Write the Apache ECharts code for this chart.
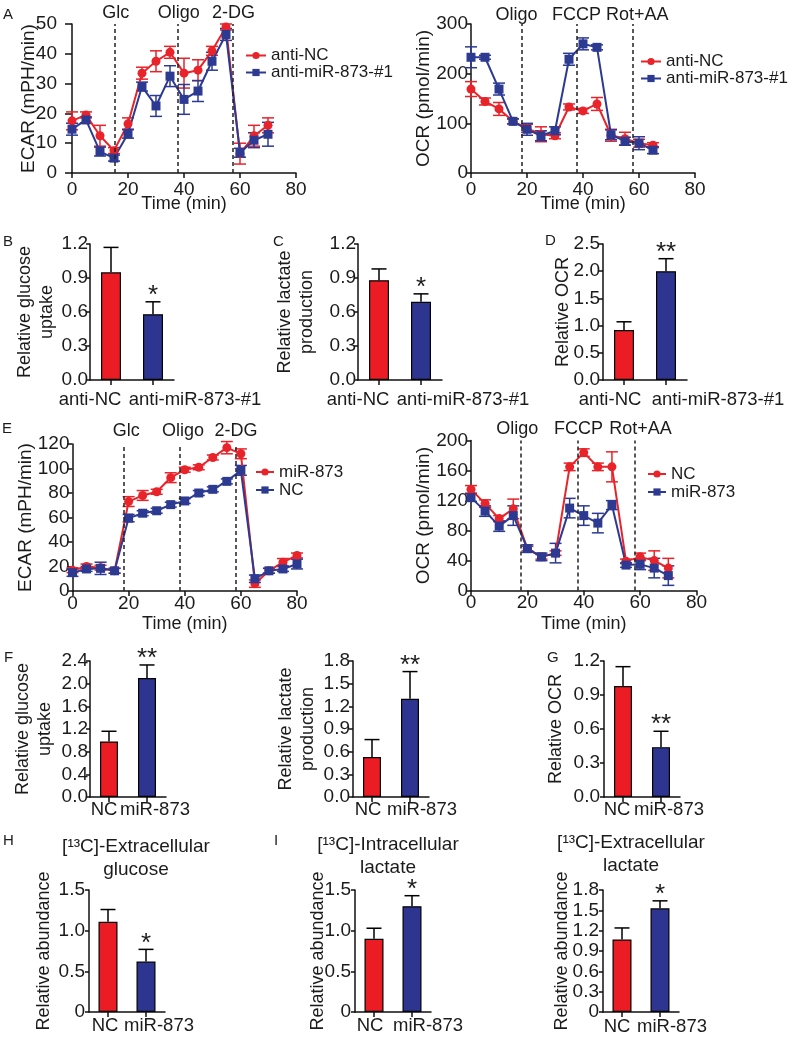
<!DOCTYPE html>
<html><head><meta charset="utf-8">
<script src="https://cdn.jsdelivr.net/npm/echarts@6/dist/echarts.min.js"></script>
<style>html,body{margin:0;padding:0;background:#fff}#c{width:800px;height:1037px}</style>
</head><body><div id="c"></div>
<script>
// ---------------- DATA ----------------
// Panel A: ECAR (anti-NC vs anti-miR-873-#1)
const aEcarTime = [0,5,10,15,20,25,30,35,40,45,50,55,60,65,70];
const aEcarNC = [17.5,19.5,12.5,7.5,16.5,33.5,37.5,40.5,33.5,34.5,41,49,6.5,12.5,16];
const aEcarNCErr = [3,1,3.5,1,2,2,3.5,2,5,3.5,1.5,1,3.5,3.5,2.5];
const aEcarMiR = [14.7,17.8,7.2,5,13.2,29,22.5,32.5,24.7,27.5,37.5,46.5,6.8,11,13];
const aEcarMiRErr = [2,1,1.5,1,1.5,1.5,3.5,3.5,5,3.5,3,2,1.5,2.5,4];
const aEcarInject = [15.3,37.8,57.3];
const aEcarInjectNames = ['Glc','Oligo','2-DG'];
// Panel A: OCR
const aOcrTime = [0,5,10,15,20,25,30,35,40,45,50,55,60,65];
const aOcrNC = [169,144,129,104,90,78,75,133,125,139,76,69,60,56];
const aOcrNCErr = [15,7,13,5,8,15,6,6,5,13,12,13,8,5];
const aOcrMiR = [233,233,169,104,88,75,85,229,260,253,77,64,60,46];
const aOcrMiRErr = [21,4,12,5,12,10,8,12,12,5,10,8,13,7];
const aOcrInject = [18,37.7,57.6];
const aOcrInjectNames = ['Oligo','FCCP','Rot+AA'];
// Panel E: ECAR (miR-873 vs NC)
const eEcarTime = [0,5,10,15,20,25,30,35,40,45,50,55,60,65,70,75,80];
const eEcarMiR = [17,20,19,16.5,73,78,81,92.5,99,101,109,117,112,6,16.5,23.5,29];
const eEcarMiRErr = [2,2,2,2,4,4,2,4,2,2,2,5,4,3,2,3,2];
const eEcarNC = [15,18,18.5,16.5,59.5,63.5,65.5,70.5,73.5,80,83,89.5,98.5,10,16.5,18,22];
const eEcarNCErr = [3,2,5,2,3,2,2,2,2,2,2,2,4,3,2,2,4];
const eEcarInject = [18.4,38.3,58.3];
const eEcarInjectNames = ['Glc','Oligo','2-DG'];
// Panel E: OCR
const eOcrTime = [0,5,10,15,20,25,30,35,40,45,50,55,60,65,70];
const eOcrNC = [135,116,96,109,56,45,50,165,184,165,165,39,45,40,30];
const eOcrNCErr = [5,5,4,13,3,3,3,5,5,5,20,3,5,13,13];
const eOcrMiR = [124,106,86,100,56,45,50,110,100,90,114,34,35,30,20];
const eOcrMiRErr = [5,7,7,13,5,5,13,13,13,13,6,3,7,13,13];
const eOcrInject = [17.8,37.8,58];
const eOcrInjectNames = ['Oligo','FCCP','Rot+AA'];
// Bar panels
const catsAnti = ['anti-NC','anti-miR-873-#1'];
const catsMiR = ['NC','miR-873'];
const bGlucose = [0.95,0.58], bGlucoseErr = [0.22,0.11], bStars = ['','*'];
const cLactate = [0.88,0.69], cLactateErr = [0.10,0.07], cStars = ['','*'];
const dOcr = [0.92,2.0], dOcrErr = [0.15,0.23], dStars = ['','**'];
const fGlucose = [0.98,2.1], fGlucoseErr = [0.18,0.23], fGlucoseStars = ['','**'];
const fLactate = [0.53,1.3], fLactateErr = [0.23,0.36], fLactateStars = ['','**'];
const gOcr = [0.98,0.44], gOcrErr = [0.17,0.14], gStars = ['','**'];
const hGlucose = [1.11,0.62], hGlucoseErr = [0.15,0.15], hStars = ['','*'];
const iLactate = [0.9,1.3], iLactateErr = [0.13,0.13], iStars = ['','*'];
const jLactate = [1.07,1.53], jLactateErr = [0.17,0.11], jStars = ['','*'];

// ---------------- STYLE ----------------
const FONT = '"Liberation Sans", Arial, Helvetica, sans-serif';
const TXT = '#1b1b1b', AX = '#111';
const RED = '#e8232a', BLUE = '#2c3a92';
const BAR_RED = '#ec1c24', BAR_BLUE = '#2e3590';

const grids = [], xAxes = [], yAxes = [], series = [], legends = [], titles = [];

function pad(s) { return s < 0 ? [0, -2 * s, 0, 0] : [0, 0, 0, 2 * s]; }

function lineErr(color, cap) {
  return function (params, api) {
    const x = api.value(0), y = api.value(1), e = api.value(2);
    const lo = api.coord([x, y - e]), hi = api.coord([x, y + e]);
    const st = {stroke: color, lineWidth: 1.5};
    return {type: 'group', children: [
      {type: 'line', shape: {x1: lo[0], y1: lo[1], x2: hi[0], y2: hi[1]}, style: st},
      {type: 'line', shape: {x1: hi[0] - cap / 2, y1: hi[1], x2: hi[0] + cap / 2, y2: hi[1]}, style: st},
      {type: 'line', shape: {x1: lo[0] - cap / 2, y1: lo[1], x2: lo[0] + cap / 2, y2: lo[1]}, style: st}
    ]};
  };
}

function addLinePanel(cfg) {
  const gi = grids.length;
  grids.push({left: cfg.box[0], top: cfg.box[1], width: cfg.box[2], height: cfg.box[3], containLabel: false, outerBoundsMode: 'none'});
  xAxes.push({gridIndex: gi, type: 'value', min: 0, max: 80, interval: 20,
    name: 'Time (min)', nameLocation: 'middle', nameGap: cfg.xNameGap, nameMoveOverlap: false,
    nameTextStyle: {fontSize: 18, color: TXT, fontFamily: FONT},
    axisLine: {show: true, lineStyle: {color: AX, width: 1.5}},
    axisTick: {show: true, length: 5, lineStyle: {color: AX, width: 1.5}},
    axisLabel: {fontSize: 19, color: TXT, fontFamily: FONT, margin: cfg.xLabelMargin},
    splitLine: {show: false}});
  yAxes.push({gridIndex: gi, type: 'value', min: 0, max: cfg.yMax, interval: cfg.yInt,
    name: cfg.yName, nameLocation: 'middle', nameRotate: 90, nameGap: cfg.yNameGap, nameMoveOverlap: false,
    nameTextStyle: {fontSize: 19, color: TXT, fontFamily: FONT},
    axisLine: {show: true, lineStyle: {color: AX, width: 1.5}},
    axisTick: {show: true, length: cfg.yTickLen, lineStyle: {color: AX, width: 1.5}},
    axisLabel: {fontSize: 19, color: TXT, fontFamily: FONT, margin: cfg.yLabelMargin},
    splitLine: {show: false}});
  cfg.lines.forEach((ln, k) => {
    const s = {type: 'line', name: cfg.id + '|' + ln.name, xAxisIndex: gi, yAxisIndex: gi,
      data: cfg.time.map((t, i) => [t, ln.values[i]]),
      symbol: ln.symbol, symbolSize: 9, lineStyle: {color: ln.color, width: 2},
      itemStyle: {color: ln.color}, z: 4, animation: false};
    if (k === 0) {
      s.markLine = {silent: true, symbol: ['none', 'none'], animation: false,
        lineStyle: {type: [4, 3], color: '#222', width: 1.5},
        label: {show: true, position: 'end', formatter: '{b}', fontSize: 18, color: TXT, fontFamily: FONT, distance: cfg.markDist},
        emphasis: {disabled: true},
        data: cfg.inject.map((t, i) => ({xAxis: t, name: cfg.injectNames[i],
          label: {padding: pad(cfg.markShift[i])}}))};
    }
    series.push(s);
    series.push({type: 'custom', xAxisIndex: gi, yAxisIndex: gi, silent: true, z: 3, animation: false,
      data: cfg.time.map((t, i) => [t, ln.values[i], ln.errs[i]]), renderItem: lineErr(ln.color, 12)});
  });
  legends.push({orient: 'vertical', left: cfg.legendPos[0], top: cfg.legendPos[1], padding: 0,
    itemWidth: cfg.legendItemW, itemHeight: 9, itemGap: 0, selectedMode: false,
    textStyle: {fontSize: 17, color: TXT, fontFamily: FONT, lineHeight: cfg.legendLH},
    formatter: n => n.split('|')[1],
    data: cfg.lines.map(ln => ({name: cfg.id + '|' + ln.name, itemStyle: {color: ln.color}, lineStyle: {color: ln.color, width: 2}}))});
}

function addBarPanel(cfg) {
  const gi = grids.length;
  grids.push({left: cfg.box[0], top: cfg.box[1], width: cfg.box[2], height: cfg.box[3], containLabel: false, outerBoundsMode: 'none'});
  const tokenStyle = s => ({fontSize: 18.5, color: TXT, fontFamily: FONT, lineHeight: 19, padding: pad(s)});
  xAxes.push({gridIndex: gi, type: 'category', data: cfg.cats,
    axisLine: {show: true, lineStyle: {color: AX, width: 1.5}},
    axisTick: {show: true, alignWithLabel: true, length: 5, lineStyle: {color: AX, width: 1.5}},
    axisLabel: {interval: 0, margin: cfg.labelMargin, hideOverlap: false,
      formatter: (v, i) => '{c' + i + '|' + v + '}',
      rich: {c0: tokenStyle(cfg.shift[0]), c1: tokenStyle(cfg.shift[1])}},
    splitLine: {show: false}});
  yAxes.push({gridIndex: gi, type: 'value', min: 0, max: cfg.yMax, interval: cfg.yInt,
    name: cfg.yName, nameLocation: 'middle', nameRotate: 90, nameGap: cfg.yNameGap, nameMoveOverlap: false,
    nameTextStyle: {fontSize: 18, color: TXT, fontFamily: FONT, lineHeight: 22},
    axisLine: {show: true, lineStyle: {color: AX, width: 1.5}},
    axisTick: {show: true, length: 4, lineStyle: {color: AX, width: 1.5}},
    axisLabel: {fontSize: 19, color: TXT, fontFamily: FONT, margin: cfg.yLabelMargin,
      formatter: v => (cfg.zeroPlain && v === 0) ? '0' : v.toFixed(1)},
    splitLine: {show: false}});
  series.push({type: 'bar', xAxisIndex: gi, yAxisIndex: gi, barWidth: cfg.barWidth, animation: false, silent: true, z: 2,
    data: cfg.values.map((v, i) => ({value: v, itemStyle: {color: i === 0 ? BAR_RED : BAR_BLUE, borderColor: '#000', borderWidth: 1.2}}))});
  series.push({type: 'custom', xAxisIndex: gi, yAxisIndex: gi, silent: true, z: 3, animation: false,
    data: cfg.values.map((v, i) => [i, v, cfg.errs[i]]),
    renderItem: function (params, api) {
      const i = api.value(0), v = api.value(1), e = api.value(2);
      const p0 = api.coord([i, v]), p1 = api.coord([i, v + e]);
      const st = {stroke: '#000', lineWidth: 1.5};
      const cap = 15;
      const ch = [
        {type: 'line', shape: {x1: p0[0], y1: p0[1], x2: p1[0], y2: p1[1]}, style: st},
        {type: 'line', shape: {x1: p1[0] - cap / 2, y1: p1[1], x2: p1[0] + cap / 2, y2: p1[1]}, style: st}];
      const star = cfg.stars[params.dataIndex];
      if (star) ch.push({type: 'text', style: {text: star, x: p1[0], y: p1[1] - 6, fill: TXT, fontSize: 26, fontFamily: FONT, align: 'center', verticalAlign: 'middle'}});
      return {type: 'group', children: ch};
    }});
}

// ---------------- PANELS ----------------
addLinePanel({id: 'A1', box: [72, 24, 224, 149], yMax: 50, yInt: 10, yName: 'ECAR (mPH/min)', yNameGap: 34,
  yTickLen: 7, yLabelMargin: 15, xLabelMargin: 7, xNameGap: 22, markDist: 2, markShift: [1, 1, 1],
  time: aEcarTime, inject: aEcarInject, injectNames: aEcarInjectNames,
  legendPos: [245, 47], legendItemW: 20, legendLH: 16,
  lines: [{name: 'anti-NC', values: aEcarNC, errs: aEcarNCErr, color: RED, symbol: 'circle'},
          {name: 'anti-miR-873-#1', values: aEcarMiR, errs: aEcarMiRErr, color: BLUE, symbol: 'rect'}]});
addLinePanel({id: 'A2', box: [471, 24, 224, 149], yMax: 300, yInt: 100, yName: 'OCR (pmol/min)', yNameGap: 38,
  yTickLen: 5, yLabelMargin: 3, xLabelMargin: 7, xNameGap: 22, markDist: 0, markShift: [-5, 0, 5],
  time: aOcrTime, inject: aOcrInject, injectNames: aOcrInjectNames,
  legendPos: [640, 53], legendItemW: 20, legendLH: 16,
  lines: [{name: 'anti-NC', values: aOcrNC, errs: aOcrNCErr, color: RED, symbol: 'circle'},
          {name: 'anti-miR-873-#1', values: aOcrMiR, errs: aOcrMiRErr, color: BLUE, symbol: 'rect'}]});
addLinePanel({id: 'E1', box: [72.5, 444, 224.5, 147], yMax: 120, yInt: 20, yName: 'ECAR (mPH/min)', yNameGap: 37,
  yTickLen: 5, yLabelMargin: 3, xLabelMargin: 3, xNameGap: 24, markDist: 4, markShift: [2, 3, 0],
  time: eEcarTime, inject: eEcarInject, injectNames: eEcarInjectNames,
  legendPos: [255, 463], legendItemW: 18, legendLH: 18,
  lines: [{name: 'miR-873', values: eEcarMiR, errs: eEcarMiRErr, color: RED, symbol: 'circle'},
          {name: 'NC', values: eEcarNC, errs: eEcarNCErr, color: BLUE, symbol: 'rect'}]});
addLinePanel({id: 'E2', box: [471, 440.6, 225.5, 150], yMax: 200, yInt: 40, yName: 'OCR (pmol/min)', yNameGap: 38,
  yTickLen: 5, yLabelMargin: 3, xLabelMargin: 3, xNameGap: 24, markDist: 3, markShift: [-4, 1, 6],
  time: eOcrTime, inject: eOcrInject, injectNames: eOcrInjectNames,
  legendPos: [647, 465], legendItemW: 18, legendLH: 18,
  lines: [{name: 'NC', values: eOcrNC, errs: eOcrNCErr, color: RED, symbol: 'circle'},
          {name: 'miR-873', values: eOcrMiR, errs: eOcrMiRErr, color: BLUE, symbol: 'rect'}]});

addBarPanel({box: [90, 244, 84, 136], cats: catsAnti, values: bGlucose, errs: bGlucoseErr, stars: bStars,
  yMax: 1.2, yInt: 0.3, yName: 'Relative glucose\nuptake', yNameGap: 32, yLabelMargin: 2, labelMargin: 10, shift: [-21, 42], barWidth: 20});
addBarPanel({box: [358, 244, 84, 136], cats: catsAnti, values: cLactate, errs: cLactateErr, stars: cStars,
  yMax: 1.2, yInt: 0.3, yName: 'Relative lactate\nproduction', yNameGap: 40, yLabelMargin: 2, labelMargin: 10, shift: [-21, 42], barWidth: 20});
addBarPanel({box: [603, 244, 84, 136], cats: catsAnti, values: dOcr, errs: dOcrErr, stars: dStars,
  yMax: 2.5, yInt: 0.5, yName: 'Relative OCR', yNameGap: 29, yLabelMargin: 3, labelMargin: 10, shift: [-14, 52], barWidth: 20});
addBarPanel({box: [90, 661, 76, 136], cats: catsMiR, values: fGlucose, errs: fGlucoseErr, stars: fGlucoseStars,
  yMax: 2.4, yInt: 0.4, yName: 'Relative glucose\nuptake', yNameGap: 34, yLabelMargin: 2, labelMargin: 3, shift: [-5, 8], barWidth: 18});
addBarPanel({box: [353, 661, 76, 136], cats: catsMiR, values: fLactate, errs: fLactateErr, stars: fLactateStars,
  yMax: 1.8, yInt: 0.3, yName: 'Relative lactate\nproduction', yNameGap: 34, yLabelMargin: 3, labelMargin: 3, shift: [-4, 12], barWidth: 18});
addBarPanel({box: [604, 661, 76, 136], cats: catsMiR, values: gOcr, errs: gOcrErr, stars: gStars,
  yMax: 1.2, yInt: 0.3, yName: 'Relative OCR', yNameGap: 37, yLabelMargin: 4, labelMargin: 3, shift: [-6, 8], barWidth: 18});
addBarPanel({box: [89, 890, 76, 122], cats: catsMiR, values: hGlucose, errs: hGlucoseErr, stars: hStars, zeroPlain: true,
  yMax: 1.5, yInt: 0.5, yName: 'Relative abundance', yNameGap: 34, yLabelMargin: 4, labelMargin: 4, shift: [-3, 13], barWidth: 19});
addBarPanel({box: [355, 890, 76, 122], cats: catsMiR, values: iLactate, errs: iLactateErr, stars: iStars, zeroPlain: true,
  yMax: 1.5, yInt: 0.5, yName: 'Relative abundance', yNameGap: 26, yLabelMargin: 4, labelMargin: 4, shift: [-4, 16], barWidth: 19});
addBarPanel({box: [603, 890, 76, 122], cats: catsMiR, values: jLactate, errs: jLactateErr, stars: jStars, zeroPlain: true,
  yMax: 1.8, yInt: 0.3, yName: 'Relative abundance', yNameGap: 30, yLabelMargin: 4, labelMargin: 5, shift: [-5, 12], barWidth: 19});

// Panel letters and panel titles
const letterStyle = {fontSize: 15, fontWeight: 'normal', color: TXT, fontFamily: FONT};
[['A', 3, 7], ['B', 3, 234], ['C', 273, 234], ['D', 545, 233], ['E', 2, 421],
 ['F', 4, 650], ['G', 547, 650], ['H', 3, 833], ['I', 274, 833]].forEach(l => {
  titles.push({text: l[0], left: l[1], top: l[2], padding: 0, textStyle: letterStyle});
});
const panelTitleStyle = {fontSize: 19, fontWeight: 'normal', color: TXT, fontFamily: FONT, lineHeight: 23};
titles.push({text: '[¹³C]-Extracellular\nglucose', left: 136, top: 835, padding: 0, textAlign: 'center', textStyle: panelTitleStyle});
titles.push({text: '[¹³C]-Intracellular\nlactate', left: 388, top: 833, padding: 0, textAlign: 'center', textStyle: panelTitleStyle});
titles.push({text: '[¹³C]-Extracellular\nlactate', left: 631, top: 831, padding: 0, textAlign: 'center', textStyle: panelTitleStyle});

const chart = echarts.init(document.getElementById('c'), null, {renderer: 'canvas'});
chart.setOption({
  animation: false,
  backgroundColor: '#fff',
  textStyle: {fontFamily: FONT},
  title: titles, legend: legends, grid: grids, xAxis: xAxes, yAxis: yAxes, series: series
});
</script></body></html>
